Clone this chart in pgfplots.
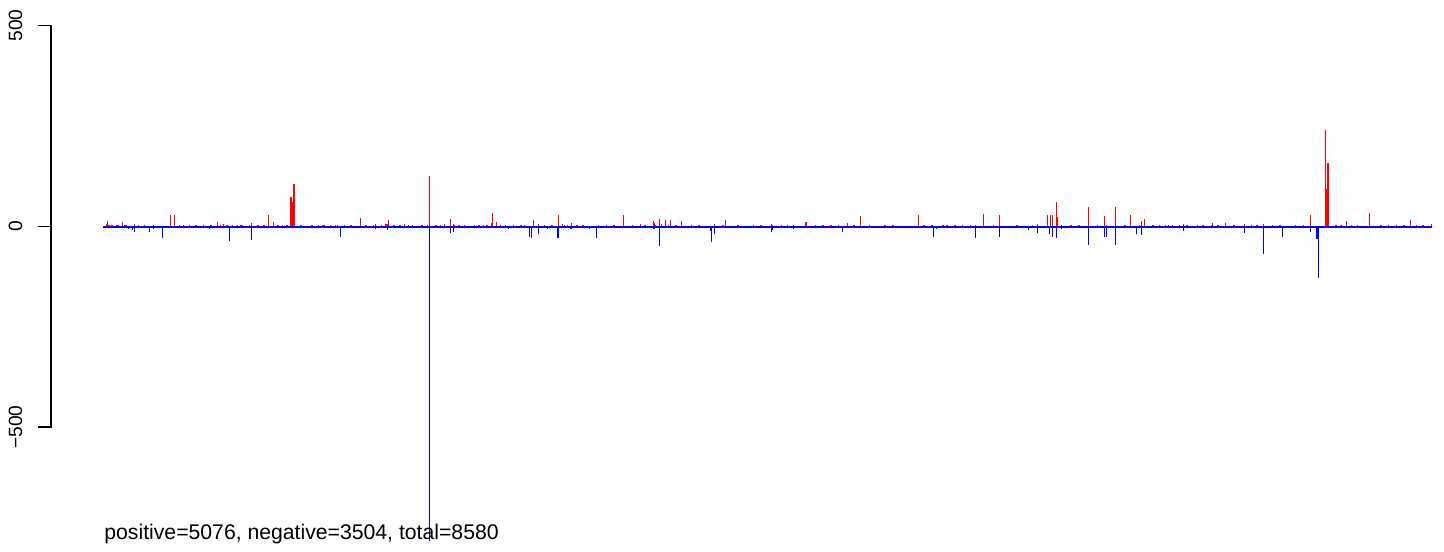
\documentclass[border=0pt]{standalone}
\usepackage{pgfplots}
\usepackage{pgfplotstable}
\usepackage{fontspec}
\setmainfont{Liberation Sans}
\pgfplotsset{compat=1.18}

\pgfplotstableread{
idx val
24 5
29 12
100 2.5
126 10
138 2.5
203 5
326 2.5
435 27
461 27
494 2.5
739 10
778 5
836 2.5
868 2.5
887 2.5
945 2.5
958 7.5
1068 27
1100 10
1214 72
1216 72
1218 72
1220 72
1222 52
1224 52
1226 52
1228 60
1230 60
1232 60
1234 105
1236 105
1238 105
1391 2.5
1430 2.5
1500 2.5
1513 2.5
1662 20
1745 2.5
1759 5
1797 2.5
1823 5
1830 5
1836 5
1843 15
1946 5
1971 2.5
2095 2.5
2107 125
2204 5
2243 17.5
2263 5
2269 2.5
2333 2.5
2456 2.5
2508 7.5
2514 32
2540 10
2565 2.5
2721 2.5
2779 15
2811 5
2940 27
2966 5
2979 2.5
3024 7.5
3360 27
3469 5
3553 12.5
3559 7.5
3566 2.5
3592 17.5
3604 5
3631 15
3650 2.5
3663 15
3734 12.5
3947 5
4003 2.5
4018 15
4315 5
4321 2.5
4457 2.5
4534 10
4541 10
4806 7.5
4890 25
5264 27
5353 2.5
5424 2.5
5632 2.5
5684 30
5787 27
6032 5
6097 27
6116 27
6129 27
6155 60
6162 22
6187 2.5
6245 2.5
6362 47
6465 25
6478 2.5
6536 47
6632 27
6690 2.5
6704 12.5
6723 17.5
6859 2.5
6904 2.5
6975 5
7065 2.5
7156 2.5
7162 7.5
7246 7.5
7369 5
7413 2.5
7491 5
7795 27
7894 241
7896 92
7898 92
7900 92
7902 92
7904 92
7906 92
7908 157
7910 157
7912 92
7914 92
7992 2.5
7998 2.5
8027 12.5
8175 33
8440 15
8576 5
}\postable

\pgfplotstableread{
idx val
164 -7.5
190 -10
204 -15
300 -15
327 -7.5
358 -5
384 -30
462 -5
687 -7.5
816 -37
946 -2.5
959 -35
1313 -5
1533 -27
1694 -2.5
1760 -7.5
1804 -2.5
1837 -10
2049 -2.5
2108 -785
2244 -17.5
2264 -15
2270 -2.5
2366 -2.5
2617 -7.5
2753 -27
2766 -30
2812 -20
2869 -7.5
2934 -30
2937 -30
2941 -30
3018 -7.5
3025 -7.5
3140 -7.5
3185 -30
3289 -5
3554 -7.5
3560 -7.5
3593 -48
3605 -2.5
3664 -2.5
3896 -2.5
3921 -12.5
3928 -40
3948 -20
3967 -2.5
3986 -2.5
4019 -2.5
4316 -15
4322 -10
4458 -7.5
4535 -2.5
4773 -15
4877 -2.5
5161 -2.5
5200 -5
5219 -2.5
5361 -27
5380 -7.5
5484 -2.5
5633 -30
5685 -5
5788 -27
5800 -2.5
5974 -10
6033 -17.5
6110 -20
6130 -27
6156 -30
6188 -7.5
6220 -2.5
6363 -47
6466 -27
6479 -27
6537 -47
6671 -20
6705 -22
6917 -2.5
6943 -2.5
6976 -12.5
7052 -2.5
7163 -2.5
7342 -2.5
7370 -17.5
7478 -2.5
7492 -70
7614 -27
7640 -5
7796 -15
7838 -32
7840 -32
7842 -32
7846 -129
8233 -2.5
8543 -2.5
}\negtable

\pgfplotstableread{
idx val
40 3
60 3
90 3
150 3
230 3
270 3
520 3
560 3
600 3
650 3
700 3
760 3
800 3
900 3
1000 3
1040 3
1130 3
1160 3
1190 3
1280 3
1350 3
1420 3
1470 3
1560 3
1600 3
1700 3
1880 3
1920 3
2000 3
2060 3
2150 3
2180 3
2300 3
2400 3
2430 3
2480 3
2600 3
2650 3
2700 3
2850 3
2900 3
3000 3
3060 3
3100 3
3200 3
3250 3
3300 3
3420 3
3500 3
3700 3
3800 3
3850 3
4100 3
4200 3
4250 3
4380 3
4420 3
4600 3
4650 3
4700 3
4750 3
4850 3
4950 3
5050 3
5100 3
5300 3
5450 3
5500 3
5550 3
5600 3
5750 3
5900 3
6000 3
6250 3
6300 3
6420 3
6600 3
6780 3
6820 3
6880 3
6950 3
7000 3
7100 3
7200 3
7300 3
7450 3
7550 3
7600 3
7700 3
7750 3
7960 3
8060 3
8100 3
8250 3
8300 3
8350 3
8400 3
8480 3
8520 3
}\smalltable

\begin{document}
\begin{tikzpicture}
\begin{axis}[
  scale only axis,
  width=722pt, height=275.5pt,
  xmin=-663.9, xmax=8657.6,
  ymin=-808.7, ymax=563.6,
  hide axis,
  clip=false,
]
\path (rel axis cs:0,0) rectangle (rel axis cs:1,1);
\addplot[blue, line width=1pt] coordinates {(1,-1.5) (8580,-1.5)};
\addplot[red, ycomb, line width=0.8pt, mark=none] table[x=idx, y=val] {\smalltable};
\addplot[red, ycomb, line width=0.65pt, mark=none] table[x=idx, y=val] {\postable};
\addplot[blue, ycomb, line width=0.6pt, mark=none] table[x=idx, y=val] {\negtable};
% left axis (R style)
\draw[line width=0.6pt] (axis cs:-421,500) -- (axis cs:-335,500) -- (axis cs:-335,-500) -- (axis cs:-421,-500);
\draw[line width=0.6pt] (axis cs:-421,0) -- (axis cs:-335,0);
\node[rotate=90, anchor=center, inner sep=0pt, font=\fontsize{9.6pt}{11pt}\selectfont] at (axis cs:-564,500) {500};
\node[rotate=90, anchor=center, inner sep=0pt, font=\fontsize{9.6pt}{11pt}\selectfont] at (axis cs:-564,0) {0};
\node[rotate=90, anchor=center, inner sep=0pt, font=\fontsize{9.6pt}{11pt}\selectfont] at (axis cs:-564,-500) {−500};
\node[anchor=base west, inner sep=0pt, font=\fontsize{10.6pt}{12pt}\selectfont] at (axis cs:7.5,-781) {positive=5076, negative=3504, total=8580};
\end{axis}
\end{tikzpicture}
\end{document}
